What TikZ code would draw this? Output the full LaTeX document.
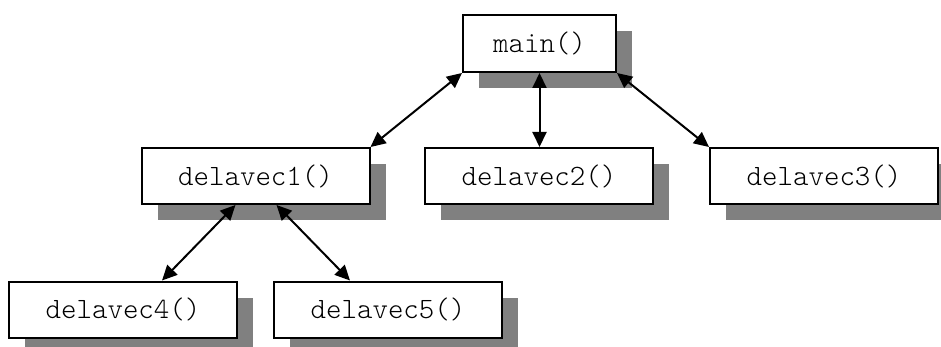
\documentclass[tikz,border=0pt]{standalone}
\usepackage{fontspec}
\setmonofont{Latin Modern Mono Light}
\usetikzlibrary{arrows.meta,shadows}
\definecolor{shadowgray}{HTML}{808080}
\tikzset{
  fn/.style={draw=black, line width=2pt, fill=white, inner sep=0pt,
    minimum height=56pt, minimum width=228pt,
    font=\ttfamily\fontsize{29.5}{34}\selectfont,
    drop shadow={shadow xshift=16pt, shadow yshift=-16pt, fill=shadowgray, opacity=1}},
  link/.style={line width=2pt,
    {Triangle[length=15pt,width=14pt]}-{Triangle[length=15pt,width=14pt]}}
}
\begin{document}
\begin{tikzpicture}[x=1pt,y=-1pt]
\useasboundingbox (0,0) rectangle (941,347);
% call tree of the functions
\node[fn, minimum width=153pt, minimum height=57pt] (main) at (539.5,43.5) {main()};
\node[fn] (d1) at (255.5,176) {delavec1()};
\node[fn] (d2) at (539,176) {delavec2()};
\node[fn] (d3) at (824,176) {delavec3()};
\node[fn] (d4) at (123,309.5) {delavec4()};
\node[fn] (d5) at (388,309.5) {delavec5()};
% calls and returns
\draw[link] (main.south west) -- (d1.north east);
\draw[link] (main.south) -- (main.south |- d2.north);
\draw[link] (main.south east) -- (d3.north west);
\draw[link] ([xshift=-20pt]d1.south) -- ([xshift=39pt]d4.north);
\draw[link] ([xshift=21pt]d1.south) -- ([xshift=-38pt]d5.north);
\end{tikzpicture}
\end{document}
